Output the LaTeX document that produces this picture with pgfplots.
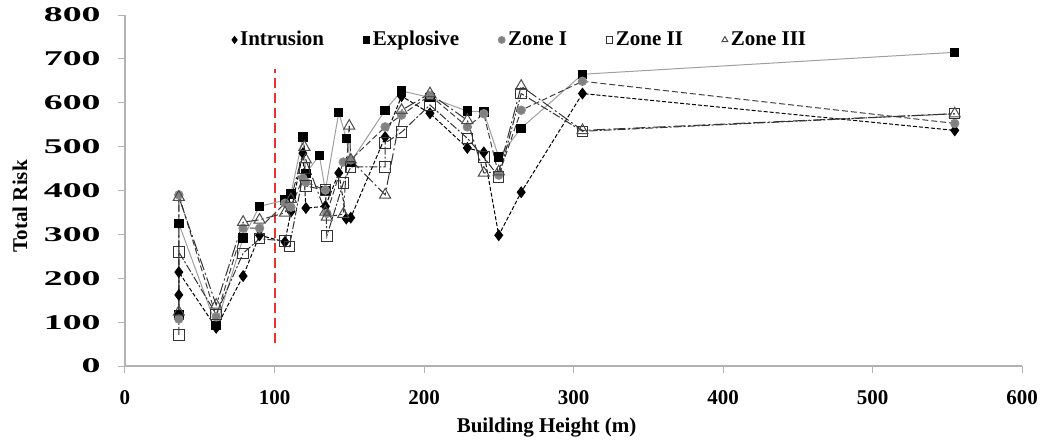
\documentclass[border=0pt]{standalone}
\usepackage{fontspec}
\setmainfont{Liberation Serif}
\newfontfamily\wideserif[FakeStretch=1.8]{Liberation Serif}
\usepackage{pgfplots}
\pgfplotsset{compat=1.18}
\definecolor{refred}{RGB}{235,50,50}
\begin{document}
\fontsize{10.5}{12}\selectfont\bfseries
\begin{tikzpicture}
\useasboundingbox (-62.5pt,-38.5pt) rectangle (461pt,183pt);
\begin{axis}[
  scale only axis, width=448.5pt, height=175.5pt,
  at={(0,0)}, anchor=south west,
  xmin=0, xmax=600, ymin=0, ymax=800,
  xtick={0,100,...,600}, ytick={0,100,...,800},
  axis x line*=bottom, axis y line*=left,
  axis line style={-, draw=gray!60, line width=0.6pt},
  tick align=outside, major tick length=3.5pt,
  tick style={draw=gray!60, line width=0.5pt},
  /pgf/number format/assume math mode=true,
  xticklabel style={font=\fontsize{10.5}{12}\selectfont\bfseries, yshift=-5pt},
  yticklabel style={font=\fontsize{10.5}{12}\selectfont\wideserif\bfseries, xshift=-5pt},
  xlabel={Building Height (m)}, ylabel={Total Risk},
  xlabel style={font=\fontsize{10.5}{12}\selectfont\bfseries, at={(axis description cs:0.47,-0.174)}, anchor=center},
  ylabel style={font=\fontsize{10.5}{12}\selectfont\bfseries, at={(axis description cs:-0.117,0.455)}, anchor=center},
  legend columns=5,
  legend style={draw=none, fill=none, at={(axis description cs:0.441,0.929)}, anchor=center,
    font=\fontsize{10.5}{12}\selectfont\bfseries,
    /tikz/every even column/.append style={column sep=18pt},
    nodes={inner xsep=1.5pt}},
  legend image code/.code={\draw[#1, solid, mark size=1.7pt] plot coordinates {(0pt,0pt)};},
  clip=false,
]
% red marker line
\addplot[refred, line width=1pt, dash pattern=on 5pt off 2.5pt, forget plot] coordinates {(100,52) (100,678)};

% Intrusion
\addplot[black, line width=0.5pt, dash pattern=on 2pt off 1pt, mark=diamond*, mark size=2.6pt, mark options={solid, fill=black}] coordinates {
(36,162)(36,214)(61,87)(79,205)(90,298)(107,283)(111,352)(119,485)(121,360)(134,364)(143,440)(148,336)(151,338)(174,522)(185,615)(204,576)(229,497)(240,487)(250,298)(265,396)(306,621)(555,537)};
\addlegendentry{Intrusion}

% Explosive
\addplot[gray!75, line width=0.5pt, solid, mark=square*, mark size=2.1pt, mark options={solid, draw=black, fill=black}] coordinates {
(36,116)(36,325)(61,92)(79,292)(90,364)(107,378)(111,392)(119,522)(121,439)(130,480)(134,400)(143,578)(148,519)(151,465)(174,583)(185,627)(204,612)(229,581)(240,579)(250,476)(265,542)(306,665)(555,715)};
\addlegendentry{Explosive}

% Zone I
\addplot[black!75, line width=0.5pt, dash pattern=on 3pt off 1.5pt, mark=*, mark size=2.1pt, mark options={solid, draw=gray!90, fill=gray}] coordinates {
(36,107)(36,390)(61,112)(79,314)(90,314)(107,371)(111,362)(119,428)(121,419)(134,401)(135,348)(146,465)(151,470)(174,545)(185,572)(204,617)(229,545)(240,575)(250,435)(265,583)(306,649)(555,553)};
\addlegendentry{Zone I}

% Zone II
\addplot[black!80, line width=0.5pt, dash pattern=on 4pt off 1pt on 1pt off 1pt, mark=square, mark size=2.6pt, mark options={solid, draw=black!80, fill=white}] coordinates {
(36,71)(36,260)(61,118)(79,257)(90,290)(107,285)(110,273)(120,451)(121,410)(134,401)(135,296)(146,417)(151,454)(174,454)(174,508)(185,533)(204,595)(229,519)(240,476)(250,431)(265,621)(306,535)(555,575)};
\addlegendentry{Zone II}

% Zone III
\addplot[black!80, line width=0.5pt, dash pattern=on 6pt off 1.5pt on 1pt off 1.5pt, mark=triangle, mark size=3.2pt, mark options={solid, draw=black!70, fill=white}] coordinates {
(36,123)(36,385)(61,139)(79,328)(90,333)(107,349)(111,380)(120,499)(121,470)(134,351)(135,340)(146,346)(150,547)(151,470)(174,390)(185,583)(204,621)(229,560)(240,440)(250,443)(265,638)(306,537)(555,575)};
\addlegendentry{Zone III}
\end{axis}
\end{tikzpicture}
\end{document}
